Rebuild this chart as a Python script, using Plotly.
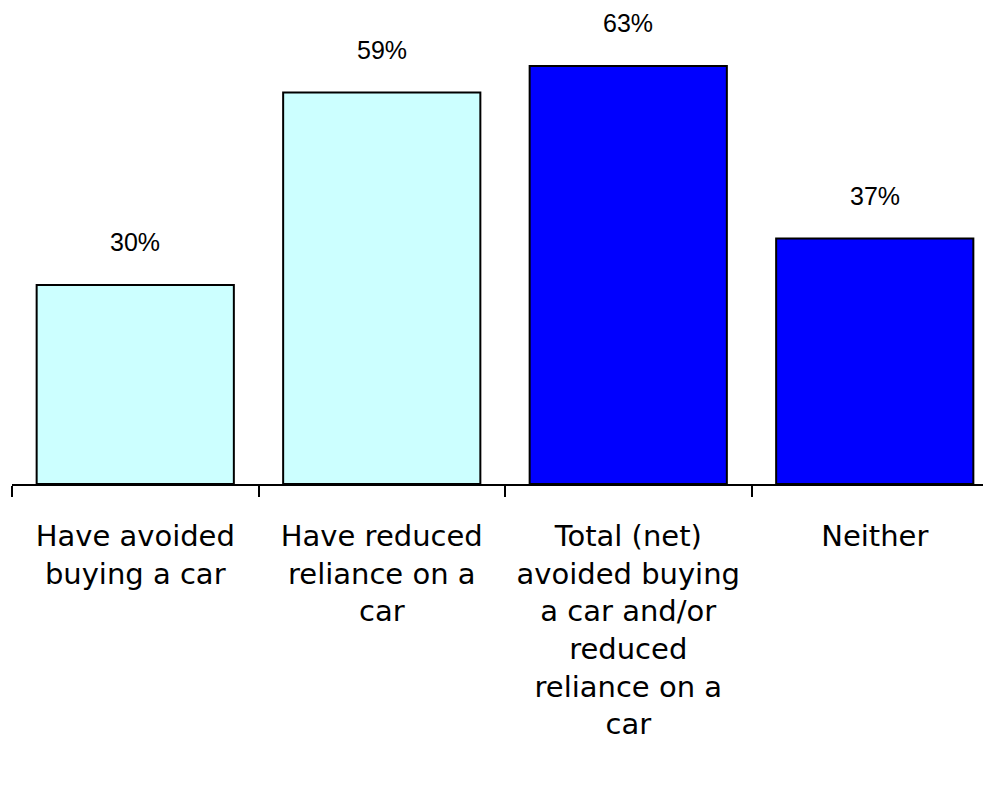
import plotly.graph_objects as go

categories = [
    "Have avoided<br>buying a car",
    "Have reduced<br>reliance on a<br>car",
    "Total (net)<br>avoided buying<br>a car and/or<br>reduced<br>reliance on a<br>car",
    "Neither",
]
values = [30, 59, 63, 37]
labels = ["30%", "59%", "63%", "37%"]
colors = ["#CCFFFF", "#CCFFFF", "#0000FF", "#0000FF"]

fig = go.Figure()
fig.add_trace(go.Bar(
    x=categories,
    y=values,
    marker=dict(color=colors, line=dict(color="#000000", width=2)),
    width=0.8,
    hoverinfo="skip",
))

for c, v, t in zip(categories, values, labels):
    fig.add_annotation(
        x=c, y=v, text=t, showarrow=False, yanchor="bottom", yshift=27,
        font=dict(family="Liberation Sans Narrow, Arial Narrow, Liberation Sans, Arial", size=25, color="#000000"),
    )

fig.update_layout(
    width=983, height=779,
    margin=dict(l=4, r=0, t=0, b=303),
    plot_bgcolor="#FFFFFF", paper_bgcolor="#FFFFFF",
    showlegend=False,
    bargap=0.2,
)
fig.update_xaxes(
    type="category",
    range=[-0.5, 3.4716],
    showline=True, linecolor="#000000", linewidth=2,
    ticks="outside", tickson="boundaries", ticklen=11, tickwidth=2, tickcolor="#000000",
    tickfont=dict(family="DejaVu Sans, Verdana", size=29, color="#000000"),
    showgrid=False, zeroline=False,
    ticklabelstandoff=25,
)
fig.update_yaxes(
    range=[0, 71.75],
    visible=False, showgrid=False, zeroline=False,
)

fig.write_html("out.html")
